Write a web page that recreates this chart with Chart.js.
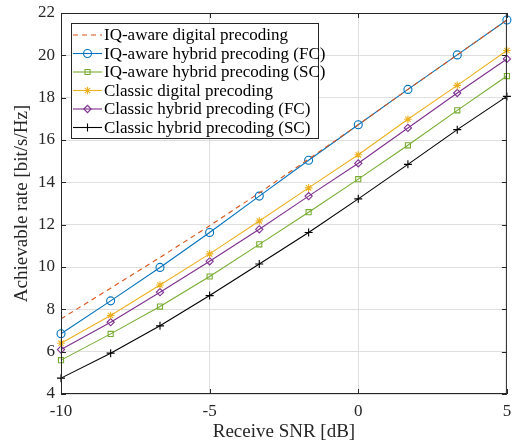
<!DOCTYPE html>
<html>
<head>
<meta charset="utf-8">
<script src="https://cdn.jsdelivr.net/npm/chart.js@4.4.0/dist/chart.umd.min.js"></script>
<style>
  html, body { margin: 0; padding: 0; background: #fff; }
  #wrap { width: 512px; height: 443px; }
</style>
</head>
<body>
<div id="wrap"><canvas id="rateChart" width="512" height="443"></canvas></div>
<script>
// data
const snr = [-10, -8.33, -6.67, -5, -3.33, -1.67, 0, 1.67, 3.33, 5];
const iqDigital = [7.55, 9.0, 10.45, 11.95, 13.5, 15.1, 16.72, 18.39, 20.02, 21.67];
const iqHybridFC = [6.85, 8.4, 9.98, 11.63, 13.35, 15.04, 16.72, 18.39, 20.02, 21.67];
const iqHybridSC = [5.6, 6.84, 8.13, 9.55, 11.07, 12.59, 14.15, 15.75, 17.4, 19.02];
const clDigital = [6.4, 7.71, 9.15, 10.62, 12.17, 13.74, 15.3, 16.98, 18.58, 20.23];
const clHybridFC = [6.1, 7.39, 8.81, 10.27, 11.78, 13.35, 14.9, 16.57, 18.22, 19.83];
const clHybridSC = [4.75, 5.93, 7.22, 8.65, 10.14, 11.63, 13.22, 14.85, 16.49, 18.06];
const xTicks = [-10, -5, 0, 5];
const yTicks = [4, 6, 8, 10, 12, 14, 16, 18, 20, 22];

const serif = "'Liberation Serif', 'DejaVu Serif', serif";
const axisColor = "#262626";

function pts(ys) {
  return snr.map((x, i) => ({ x, y: ys[i] }));
}

function series(label, ys, color, style, extra) {
  return Object.assign({
    label,
    data: pts(ys),
    borderColor: color,
    backgroundColor: "rgba(0,0,0,0)",
    borderWidth: 1.1,
    pointStyle: style,
    pointRadius: 4,
    pointBorderColor: color,
    pointBackgroundColor: "rgba(0,0,0,0)",
    pointBorderWidth: 1.1,
    tension: 0,
    clip: false
  }, extra || {});
}

// frame with inward ticks, like a boxed axes
const framePlugin = {
  id: "frame",
  afterDatasetsDraw(chart) {
    const { ctx, chartArea: a, scales } = chart;
    ctx.save();
    ctx.strokeStyle = axisColor;
    ctx.lineWidth = 1;
    ctx.strokeRect(a.left + 0.5, a.top + 0.5, a.right - a.left - 1, a.bottom - a.top - 1);
    const t = 5;
    ctx.beginPath();
    xTicks.forEach(v => {
      const px = Math.round(scales.x.getPixelForValue(v)) + 0.5;
      ctx.moveTo(px, a.bottom); ctx.lineTo(px, a.bottom - t);
      ctx.moveTo(px, a.top); ctx.lineTo(px, a.top + t);
    });
    yTicks.forEach(v => {
      const py = Math.round(scales.y.getPixelForValue(v)) + 0.5;
      ctx.moveTo(a.left, py); ctx.lineTo(a.left + t, py);
      ctx.moveTo(a.right, py); ctx.lineTo(a.right - t, py);
    });
    ctx.stroke();
    ctx.restore();
  }
};

// legend box inside the plot, line + marker samples
const legendPlugin = {
  id: "boxLegend",
  afterDraw(chart) {
    const { ctx } = chart;
    const sets = chart.data.datasets;
    const x0 = 71, y0 = 23, w = 247, rowH = 18.5;
    const h = 115;
    ctx.save();
    ctx.fillStyle = "#fff";
    ctx.fillRect(x0, y0, w, h);
    ctx.strokeStyle = axisColor;
    ctx.lineWidth = 1;
    ctx.strokeRect(x0 + 0.5, y0 + 0.5, w, h);
    ctx.font = "17px " + serif;
    ctx.textBaseline = "middle";
    sets.forEach((ds, i) => {
      const cy = y0 + 12 + i * rowH;
      ctx.strokeStyle = ds.borderColor;
      ctx.lineWidth = ds.borderWidth;
      ctx.setLineDash(ds.borderDash || []);
      ctx.beginPath();
      ctx.moveTo(x0 + 2, cy);
      ctx.lineTo(x0 + 31, cy);
      ctx.stroke();
      ctx.setLineDash([]);
      if (ds.pointRadius > 0) {
        ctx.lineWidth = ds.pointBorderWidth;
        ctx.fillStyle = "rgba(0,0,0,0)";
        Chart.helpers.drawPoint(ctx, {
          pointStyle: ds.pointStyle,
          radius: ds.pointRadius,
          borderWidth: ds.pointBorderWidth,
          rotation: 0
        }, x0 + 16.5, cy);
      }
      ctx.fillStyle = "#000";
      ctx.fillText(ds.label, x0 + 33, cy + 1);
    });
    ctx.restore();
  }
};

new Chart(document.getElementById("rateChart"), {
  type: "line",
  data: {
    datasets: [
      series("IQ-aware digital precoding", iqDigital, "#D95319", "circle", { borderDash: [5, 4], pointRadius: 0 }),
      series("IQ-aware hybrid precoding (FC)", iqHybridFC, "#0072BD", "circle"),
      series("IQ-aware hybrid precoding (SC)", iqHybridSC, "#77AC30", "rect", { pointRadius: 3.6 }),
      series("Classic digital precoding", clDigital, "#EDB120", "star", { pointRadius: 3.8 }),
      series("Classic hybrid precoding (FC)", clHybridFC, "#7E2F8E", "rectRot", { pointRadius: 3.6 }),
      series("Classic hybrid precoding (SC)", clHybridSC, "#000000", "cross", { pointRadius: 4 })
    ]
  },
  options: {
    responsive: false,
    animation: false,
    layout: { padding: { top: 13, right: 2, left: 0, bottom: 0 } },
    plugins: { legend: { display: false }, tooltip: { enabled: false } },
    scales: {
      x: {
        type: "linear",
        min: -10, max: 5,
        afterBuildTicks(s) { s.ticks = xTicks.map(v => ({ value: v })); },
        afterFit(s) { s.height = 49; s.paddingLeft = 0; s.paddingRight = 0; },
        grid: { color: "#dfdfdf", drawTicks: false },
        border: { display: false },
        ticks: { color: axisColor, font: { family: serif, size: 17 }, padding: 7, maxRotation: 0 },
        title: { display: true, text: "Receive SNR [dB]", color: axisColor, font: { family: serif, size: 19 }, padding: { top: 2, bottom: 0 } }
      },
      y: {
        min: 4, max: 22,
        afterBuildTicks(s) { s.ticks = yTicks.map(v => ({ value: v })); },
        afterFit(s) { s.width = 61; s.paddingTop = 0; s.paddingBottom = 0; },
        grid: { color: "#dfdfdf", drawTicks: false },
        border: { display: false },
        ticks: { color: axisColor, font: { family: serif, size: 17 }, padding: 6 },
        title: { display: true, text: "Achievable rate [bit/s/Hz]", color: axisColor, font: { family: serif, size: 19 }, padding: { top: 11, bottom: 0 } }
      }
    }
  },
  plugins: [framePlugin, legendPlugin]
});
</script>
</body>
</html>
